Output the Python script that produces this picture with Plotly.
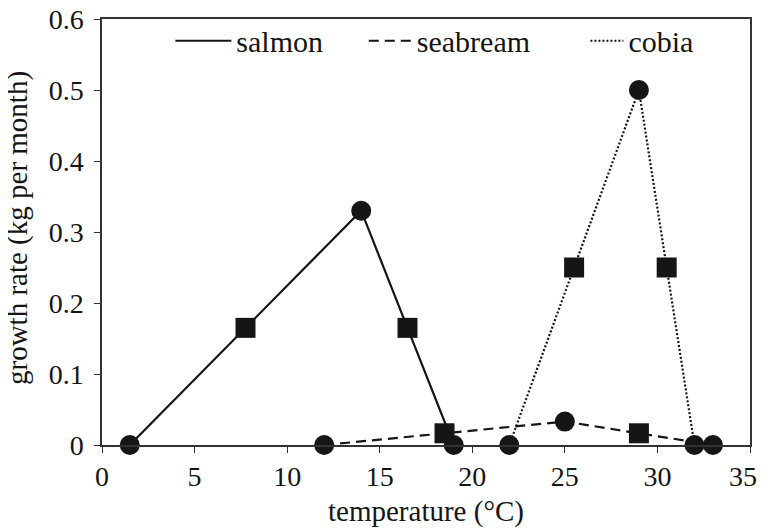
import plotly.graph_objects as go

# Data
salmon_x = [1.5, 7.75, 14, 16.5, 19]
salmon_y = [0, 0.165, 0.33, 0.165, 0]
salmon_sym = ["circle", "square", "circle", "square", "circle"]

seabream_x = [12, 18.5, 25, 29, 33]
seabream_y = [0, 0.0165, 0.033, 0.0165, 0]
seabream_sym = ["circle", "square", "circle", "square", "circle"]

cobia_x = [22, 25.5, 29, 30.5, 32]
cobia_y = [0, 0.25, 0.5, 0.25, 0]
cobia_sym = ["circle", "square", "circle", "square", "circle"]

x_ticks = [0, 5, 10, 15, 20, 25, 30, 35]
y_ticks = [0, 0.1, 0.2, 0.3, 0.4, 0.5, 0.6]

INK = "#151515"
FONT = "'Liberation Serif', 'Times New Roman', Times, serif"

series = [
    ("salmon", salmon_x, salmon_y, salmon_sym, "solid", "legend"),
    ("seabream", seabream_x, seabream_y, seabream_sym, "10px,6px", "legend2"),
    ("cobia", cobia_x, cobia_y, cobia_sym, "2px,2px", "legend3"),
]

fig = go.Figure()
for name, xs, ys, syms, dash, lg in series:
    fig.add_trace(go.Scatter(
        x=xs, y=ys, mode="lines", name=name, legend=lg,
        line=dict(color=INK, width=2.2, dash=dash),
        cliponaxis=False,
    ))
for name, xs, ys, syms, dash, lg in series:
    fig.add_trace(go.Scatter(
        x=xs, y=ys, mode="markers", name=name, showlegend=False,
        marker=dict(symbol=syms, size=20, color=INK, line=dict(width=0)),
        cliponaxis=False,
    ))

axis_common = dict(
    showline=True, linecolor="#333", linewidth=1.5, mirror=True,
    ticks="outside", ticklen=6, tickwidth=1.2, tickcolor="#333",
    showgrid=False, zeroline=False, automargin=False,
    ticklabeloverflow="allow",
    tickfont=dict(family=FONT, size=28, color=INK),
)

legend_common = dict(
    orientation="h", y=1.01, xanchor="left", yanchor="top",
    bgcolor="rgba(0,0,0,0)", font=dict(family=FONT, size=30, color=INK),
)

# last x label nudged inward (trailing no-break spaces) so it is not cut at the page edge
x_ticktext = [str(v) for v in x_ticks]
x_ticktext[-1] = x_ticktext[-1] + "\u00a0\u00a0"

# page body has an 8px margin, so the figure is sized/margined to compensate
fig.update_layout(
    width=757, height=520,
    margin=dict(l=94, r=15, t=7, b=83),
    paper_bgcolor="white", plot_bgcolor="white",
    font=dict(family=FONT, size=28, color=INK),
    showlegend=True,
    legend=dict(x=0.1055, itemwidth=56, **legend_common),
    legend2=dict(x=0.404, itemwidth=43, **legend_common),
    legend3=dict(x=0.746, itemwidth=33, **legend_common),
    xaxis=dict(
        range=[0, 35], tickvals=x_ticks, ticktext=x_ticktext,
        title=dict(text="temperature (°C)", font=dict(family=FONT, size=29, color=INK), standoff=12),
        **axis_common,
    ),
    yaxis=dict(
        range=[0, 0.6], tickvals=y_ticks, ticktext=[f"{v:g}" for v in y_ticks],
        ticklabelstandoff=5,
        **axis_common,
    ),
    annotations=[dict(
        text="growth rate (kg per month)", textangle=-90, showarrow=False,
        xref="paper", yref="paper", x=0, y=0.5, xanchor="center", yanchor="middle",
        xshift=-85, yshift=4,
        font=dict(family=FONT, size=29, color=INK),
    )],
)

fig.write_html("out.html")
